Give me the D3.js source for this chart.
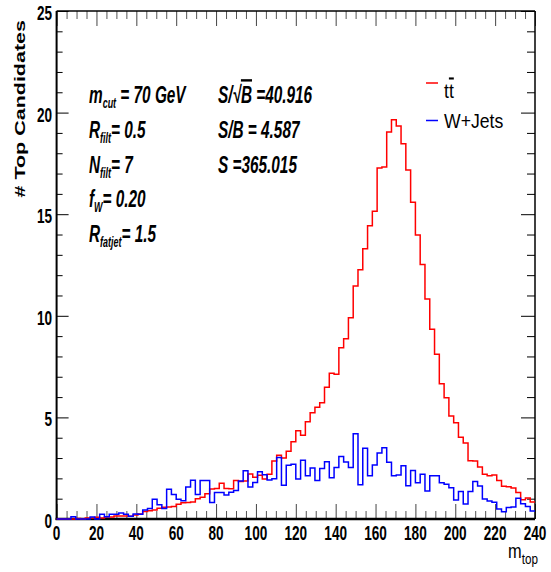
<!DOCTYPE html>
<html>
<head>
<meta charset="utf-8">
<script src="https://cdn.jsdelivr.net/npm/d3@7"></script>
<style>
  body { margin: 0; background: #fff; }
  svg { display: block; }
  text { font-family: "Liberation Sans", Arial, Helvetica, sans-serif; fill: #000; }
</style>
</head>
<body>
<svg id="chart" width="551" height="572"></svg>
<script>
// ---- histogram contents: 100 bins of 2.4 GeV between 0 and 240 GeV ----
const massRange = [0, 240];
const xTickValues = [0, 20, 40, 60, 80, 100, 120, 140, 160, 180, 200, 220, 240];
const yTickValues = [0, 5, 10, 15, 20, 25];
const yRange = [0, 25];

const ttbarCounts = [
  0, 0, 0, 0, 0.03, 0, 0.05, 0.05, 0.08, 0.05,
  0.10, 0.10, 0.15, 0.15, 0.15, 0.13, 0.20, 0.24, 0.37, 0.40,
  0.44, 0.53, 0.58, 0.59, 0.62, 0.72, 0.80, 0.81, 0.84, 1.00,
  1.07, 1.24, 1.48, 1.50, 1.76, 1.50, 1.49, 1.90, 1.84, 1.87,
  2.21, 2.05, 2.15, 1.97, 2.20, 2.85, 3.14, 3.00, 3.34, 3.80,
  4.34, 4.12, 4.79, 5.23, 5.50, 5.72, 6.48, 7.17, 7.12, 8.43,
  8.87, 9.91, 11.47, 12.27, 13.30, 14.43, 15.14, 17.27, 17.32, 19.05,
  19.65, 19.34, 18.47, 17.18, 15.59, 13.98, 12.53, 10.83, 9.34, 8.11,
  6.66, 5.97, 5.07, 4.74, 4.02, 3.74, 2.87, 2.85, 2.56, 2.20,
  2.13, 2.17, 1.90, 1.61, 1.59, 1.53, 1.31, 0.95, 1.03, 0.84
];

const wjetsCounts = [
  0, 0, 0, 0.11, 0, 0, 0, 0.10, 0, 0.23,
  0.11, 0.23, 0.23, 0.30, 0.23, 0.14, 0.24, 0.23, 0.44, 0.52,
  0.97, 0.70, 0.52, 1.47, 1.20, 0.97, 0.90, 1.57, 1.91, 1.21,
  1.90, 1.90, 0.81, 1.31, 1.31, 1.18, 1.32, 1.40, 1.87, 2.37,
  1.58, 1.80, 2.33, 2.18, 1.92, 1.98, 3.03, 1.66, 2.64, 2.70,
  1.97, 2.89, 2.13, 2.51, 1.90, 2.48, 2.82, 2.03, 2.53, 3.07,
  2.81, 2.54, 4.20, 1.69, 3.48, 2.13, 2.66, 3.25, 3.51, 2.79,
  2.13, 2.17, 2.62, 1.64, 2.39, 1.79, 2.20, 1.38, 2.13, 2.13,
  1.79, 1.71, 1.54, 0.94, 1.35, 0.74, 1.35, 1.84, 1.62, 0.98,
  0.89, 0.82, 0.49, 0.36, 0.56, 0.59, 1.02, 0.75, 0.62, 0.39
];

const seriesNames = ["t", "W+Jets"];
const statsLeft = [
  { main: "m", sub: "cut", rest: " = 70 GeV" },
  { main: "R", sub: "filt", rest: "= 0.5" },
  { main: "N", sub: "filt", rest: "= 7" },
  { main: "f", sub: "W", rest: "= 0.20" },
  { main: "R", sub: "fatjet", rest: "= 1.5" }
];
const statsRight = ["S/B = 4.587", "S =365.015"];
const significance = "=40.916";

// ---- layout ----
const svg = d3.select("#chart");
const frame = { left: 56.6, right: 535, top: 11, bottom: 519 };
const x = d3.scaleLinear().domain(massRange).range([frame.left, frame.right]);
const y = d3.scaleLinear().domain(yRange).range([frame.bottom, frame.top]);
const squeeze = 0.68;

// ---- ticks (inside the frame, on all four sides) ----
const xMinor = d3.range(0, 241, 5).filter(v => v % 20 !== 0);
const yMinor = d3.range(0, 25.01, 1).filter(v => v % 5 !== 0);

function tickLayer(axisGen, transform, colour) {
  const g = svg.append("g").attr("transform", transform).call(axisGen);
  g.select(".domain").remove();
  g.selectAll("text").remove();
  g.selectAll("line").attr("stroke", colour).attr("stroke-width", 1);
  return g;
}
tickLayer(d3.axisBottom(x).tickValues(xTickValues).tickSize(-15), `translate(0,${frame.bottom})`, "#444");
tickLayer(d3.axisBottom(x).tickValues(xMinor).tickSize(-8), `translate(0,${frame.bottom})`, "#555");
tickLayer(d3.axisTop(x).tickValues(xTickValues).tickSize(-15), `translate(0,${frame.top})`, "#444");
tickLayer(d3.axisTop(x).tickValues(xMinor).tickSize(-8), `translate(0,${frame.top})`, "#555");
tickLayer(d3.axisLeft(y).tickValues(yTickValues).tickSize(-12), `translate(${frame.left},0)`, "#000");
tickLayer(d3.axisLeft(y).tickValues(yMinor).tickSize(-6), `translate(${frame.left},0)`, "#000");
tickLayer(d3.axisRight(y).tickValues(yTickValues).tickSize(-14), `translate(${frame.right},0)`, "#000");
tickLayer(d3.axisRight(y).tickValues(yMinor).tickSize(-8), `translate(${frame.right},0)`, "#000");

// ---- frame ----
svg.append("line").attr("x1", frame.left).attr("x2", frame.right).attr("y1", frame.top).attr("y2", frame.top)
  .attr("stroke", "#000").attr("stroke-width", 1.5);
svg.append("line").attr("x1", frame.right).attr("x2", frame.right).attr("y1", frame.top).attr("y2", frame.bottom)
  .attr("stroke", "#000").attr("stroke-width", 1.5);
svg.append("line").attr("x1", frame.left).attr("x2", frame.left).attr("y1", frame.top).attr("y2", frame.bottom + 1)
  .attr("stroke", "#000").attr("stroke-width", 2);
svg.append("line").attr("x1", frame.left - 1).attr("x2", frame.right).attr("y1", frame.bottom).attr("y2", frame.bottom)
  .attr("stroke", "#000").attr("stroke-width", 2.6);

// ---- tick labels ----
svg.append("g").selectAll("g").data(xTickValues).join("g")
  .attr("transform", d => `translate(${x(d)},540) scale(${squeeze},1)`)
  .append("text").attr("text-anchor", "middle").attr("font-size", 20).attr("font-weight", "bold")
  .text(d => d);
svg.append("g").selectAll("g").data(yTickValues).join("g")
  .attr("transform", d => `translate(52,${y(d) + 9}) scale(${squeeze},1)`)
  .append("text").attr("text-anchor", "end").attr("font-size", 20).attr("font-weight", "bold")
  .text(d => d);

// ---- axis titles ----
svg.append("g").attr("transform", "translate(25,20) rotate(-90) scale(1,0.7)")
  .append("text").attr("text-anchor", "end").attr("font-size", 21.5).attr("font-weight", "bold")
  .text("# Top Candidates");
const xt = svg.append("g").attr("transform", "translate(508,558) scale(0.78,1)")
  .append("text").attr("font-size", 21);
xt.append("tspan").text("m");
xt.append("tspan").attr("dy", 6).attr("font-size", 15).text("top");

// ---- histograms ----
const binWidth = (massRange[1] - massRange[0]) / ttbarCounts.length;
function stepPath(counts) {
  const p = d3.path();
  counts.forEach((v, i) => {
    const x0 = x(massRange[0] + i * binWidth), x1 = x(massRange[0] + (i + 1) * binWidth);
    if (i === 0) p.moveTo(x0, y(v)); else p.lineTo(x0, y(v));
    p.lineTo(x1, y(v));
  });
  return p.toString();
}
svg.append("path").attr("d", stepPath(ttbarCounts)).attr("fill", "none")
  .attr("stroke", "#ff0000").attr("stroke-width", 1.5);
svg.append("path").attr("d", stepPath(wjetsCounts)).attr("fill", "none")
  .attr("stroke", "#0000ff").attr("stroke-width", 1.5);

// ---- legend ----
const legendColors = ["#ff0000", "#0000ff"];
const legendRows = [83, 120.5];
legendRows.forEach((ly, i) => {
  svg.append("line").attr("x1", 426).attr("x2", 438).attr("y1", ly).attr("y2", ly)
    .attr("stroke", legendColors[i]).attr("stroke-width", 1.5);
});
const lg1 = svg.append("g").attr("transform", "translate(444,98) scale(0.84,1)")
  .append("text").attr("font-size", 21);
lg1.append("tspan").text(seriesNames[0]);
lg1.append("tspan").style("text-decoration", "overline").text(seriesNames[0]);
svg.append("g").attr("transform", "translate(444,128) scale(0.84,1)")
  .append("text").attr("font-size", 21).text(seriesNames[1]);

// ---- selection summary ----
const statSize = 24, statSqueeze = 0.64;
const leftBase = [103, 138, 172.5, 207, 242];
statsLeft.forEach((s, i) => {
  const t = svg.append("g").attr("transform", `translate(89,${leftBase[i]}) scale(${statSqueeze},1)`)
    .append("text").attr("font-size", statSize).attr("font-weight", "bold").attr("font-style", "italic");
  t.append("tspan").text(s.main);
  t.append("tspan").attr("dy", 5).attr("font-size", 14).text(s.sub);
  t.append("tspan").attr("dy", -5).text(s.rest);
});
const sq = svg.append("g").attr("transform", `translate(218,103) scale(${statSqueeze},1)`)
  .append("text").attr("font-size", statSize).attr("font-weight", "bold").attr("font-style", "italic");
sq.append("tspan").text("S/\u221A");
sq.append("tspan").style("text-decoration", "overline").text("B");
sq.append("tspan").text(" " + significance);
statsRight.forEach((s, i) => {
  svg.append("g").attr("transform", `translate(218,${leftBase[i + 1]}) scale(${statSqueeze},1)`)
    .append("text").attr("font-size", statSize).attr("font-weight", "bold").attr("font-style", "italic")
    .text(s);
});
</script>
</body>
</html>
